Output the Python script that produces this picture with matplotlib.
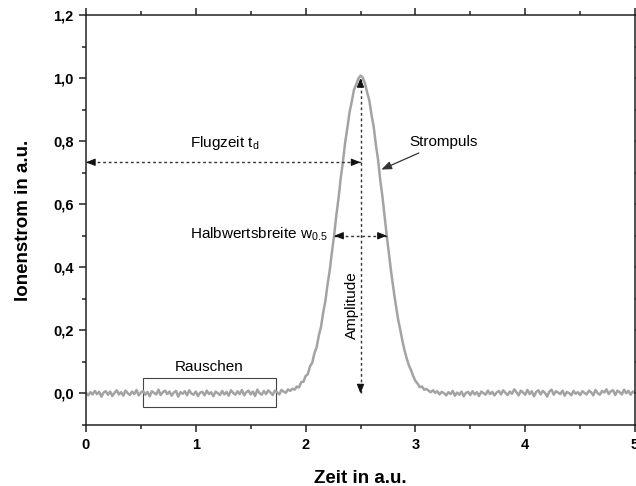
import numpy as np
import matplotlib
matplotlib.use('Agg')
import matplotlib.pyplot as plt
from matplotlib.patches import Rectangle
from matplotlib.ticker import FuncFormatter, MultipleLocator

plt.rcParams['font.family'] = ['Liberation Sans', 'DejaVu Sans']
plt.rcParams['mathtext.fontset'] = 'custom'
plt.rcParams['mathtext.rm'] = 'Liberation Sans'

# Ionenstrom, abgetastet mit dt = 0.02 (Zeit 0 ... 5)
dt = 0.02
noise_left = [
    0.002, -0.006, 0.004, -0.003, 0.008, -0.002, 0.005, -0.010, 0.003, 0.007,
    -0.004, 0.006, -0.008, 0.002, 0.010, -0.003, 0.004, -0.007, 0.009, 0.001,
    -0.005, 0.006, -0.002, 0.011, -0.006, 0.003, 0.008, -0.004, 0.005, -0.009,
    0.007, 0.002, -0.003, 0.012, -0.005, 0.004, 0.009, -0.002, 0.006, -0.007,
    0.003, 0.008, -0.010, 0.004, -0.001, 0.007, -0.006, 0.010, 0.000, -0.004,
    0.006, -0.008, 0.003, 0.005, -0.006, 0.009, -0.002, 0.004, -0.009, 0.006,
    0.001, -0.005, 0.008, -0.003, 0.005, -0.007, 0.010, 0.002, -0.004, 0.007,
    -0.002, 0.011, -0.006, 0.004, 0.009, -0.003, 0.006, -0.008, 0.012, 0.001,
    -0.004, 0.008, -0.002, 0.010, 0.003, -0.005, 0.009, 0.004, -0.003, 0.011,
    0.006, 0.002, 0.013, 0.008, 0.015,
]
pulse = [
    0.012, 0.022, 0.019, 0.036, 0.037, 0.055, 0.061, 0.086, 0.097, 0.127,
    0.146, 0.183, 0.211, 0.256, 0.293, 0.346, 0.391, 0.449, 0.502, 0.565,
    0.619, 0.683, 0.735, 0.795, 0.841, 0.891, 0.925, 0.962, 0.979, 0.998,
    1.008, 1.002, 0.984, 0.955, 0.930, 0.884, 0.846, 0.789, 0.741, 0.676,
    0.624, 0.559, 0.497, 0.440, 0.383, 0.332, 0.284, 0.240, 0.205, 0.170,
    0.138, 0.112, 0.090, 0.074, 0.055, 0.040, 0.031, 0.020, 0.022, 0.012,
    0.014,
]
noise_right = [
    0.009, 0.004, 0.010, 0.002, 0.007, -0.003, 0.005, 0.001, -0.006, 0.004,
    -0.002, 0.008, -0.007, 0.003, -0.004, 0.006, -0.009, 0.002, 0.005, -0.005,
    0.007, -0.003, 0.004, -0.008, 0.006, 0.001, -0.004, 0.009, -0.002, 0.005,
    -0.006, 0.003, 0.008, -0.003, 0.010, 0.002, -0.005, 0.006, -0.001, 0.013,
    0.004, -0.006, 0.009, 0.003, -0.004, 0.011, -0.002, 0.007, -0.009, 0.005,
    0.010, -0.003, 0.008, 0.002, -0.010, 0.006, 0.012, -0.004, 0.007, 0.003,
    -0.002, 0.009, -0.007, 0.005, 0.001, -0.006, 0.008, -0.001, 0.004, -0.005,
    0.007, 0.002, -0.003, 0.009, 0.004, -0.006, 0.011, 0.001, -0.004, 0.008,
    0.003, 0.013, -0.002, 0.007, 0.010, -0.005, 0.009, 0.004, -0.003, 0.012,
    0.001, 0.008, -0.004, 0.006, 0.003,
]

current = np.array(noise_left + pulse + noise_right)
t = np.round(np.arange(len(current)) * dt, 2)

# Kenngroessen des Pulses
t_d = 2.5
amplitude = 1.0
y_flug = 0.733
half_left, half_right = 2.26, 2.74
rausch_x = (0.52, 1.73)
rausch_y = (-0.044, 0.050)

fig = plt.figure(figsize=(6.36, 4.86), dpi=100)
ax = fig.add_axes([86 / 636, 61 / 486, 549 / 636, 410 / 486])

ax.plot(t, current, color='#a3a3a3', lw=1.8)

ax.set_xlim(0, 5)
ax.set_ylim(-0.1, 1.2)
ax.xaxis.set_major_locator(MultipleLocator(1))
ax.xaxis.set_minor_locator(MultipleLocator(0.5))
ax.yaxis.set_major_locator(MultipleLocator(0.2))
ax.yaxis.set_minor_locator(MultipleLocator(0.1))
ax.yaxis.set_major_formatter(FuncFormatter(lambda v, p: f'{v:.1f}'.replace('.', ',').replace('-0,0', '0,0')))
ax.xaxis.set_major_formatter(FuncFormatter(lambda v, p: f'{v:.0f}'))
ax.tick_params(which='both', direction='out', top=True, right=True, width=1.1, color='#222222')
ax.tick_params(which='major', length=5, labelsize=10.5, pad=4)
ax.tick_params(which='minor', length=3)
for lab in ax.get_xticklabels() + ax.get_yticklabels():
    lab.set_fontweight('bold')
for sp in ax.spines.values():
    sp.set_linewidth(1.1)
    sp.set_color('#222222')

ax.set_xlabel('Zeit in a.u.', fontsize=13.5, fontweight='bold', labelpad=13)
ax.set_ylabel('Ionenstrom in a.u.', fontsize=13.5, fontweight='bold', labelpad=15)

dots = dict(color='#333333', lw=1.0, linestyle=(0, (2, 2)))


def head(tip, dx, dy):
    # kleine gefuellte Pfeilspitze, die auf tip zeigt
    ax.annotate('', xy=tip, xytext=(tip[0] - dx, tip[1] - dy),
                arrowprops=dict(arrowstyle='-|>,head_length=0.55,head_width=0.22',
                                color='#111111', lw=0.8, shrinkA=0, shrinkB=0))


# Flugzeit
ax.plot([0, t_d], [y_flug, y_flug], **dots)
head((0.0, y_flug), -0.05, 0)
head((t_d, y_flug), 0.05, 0)
ax.text(0.945, 0.781, r'Flugzeit t$_\mathregular{d}$', fontsize=11)

# Amplitude
ax.plot([t_d, t_d], [0, amplitude], **dots)
head((t_d, amplitude), 0, 0.02)
head((t_d, 0.0), 0, -0.02)
ax.text(2.418, 0.28, 'Amplitude', rotation=90, fontsize=11, ha='center', va='center')

# Halbwertsbreite
ax.plot([half_left, half_right], [0.5, 0.5], **dots)
head((half_left, 0.5), -0.05, 0)
head((half_right, 0.5), 0.05, 0)
ax.text(0.945, 0.492, r'Halbwertsbreite w$_\mathregular{0.5}$', fontsize=11)

# Strompuls
ax.annotate('Strompuls', xy=(2.69, 0.71), xytext=(2.945, 0.797),
            fontsize=11, va='center', ha='left',
            arrowprops=dict(arrowstyle='-|>,head_length=0.55,head_width=0.22',
                            color='#333333', lw=0.9, shrinkA=2, shrinkB=0))

# Rauschen
ax.add_patch(Rectangle((rausch_x[0], rausch_y[0]), rausch_x[1] - rausch_x[0],
                       rausch_y[1] - rausch_y[0], fill=False,
                       edgecolor='#444444', lw=0.8))
ax.text(sum(rausch_x) / 2, 0.083, 'Rauschen', fontsize=11, ha='center', va='center')

fig.savefig('out.png', dpi=100)
